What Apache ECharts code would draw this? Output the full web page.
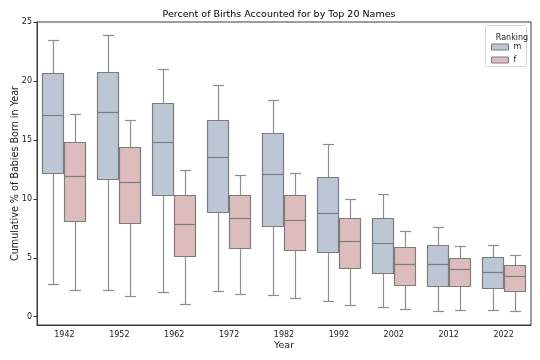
<!DOCTYPE html>
<html>
<head>
<meta charset="utf-8">
<script src="https://cdn.jsdelivr.net/npm/echarts@6/dist/echarts.min.js"></script>
<style>html,body{margin:0;padding:0;background:#fff}#c{width:540px;height:360px}</style>
</head>
<body>
<div id="c"></div>
<script>
// Data: [lower whisker, Q1, median, Q3, upper whisker]
var years = ['1942', '1952', '1962', '1972', '1982', '1992', '2002', '2012', '2022'];
var mStats = [
  [2.75, 12.2, 17.14, 20.66, 23.44],
  [2.25, 11.72, 17.36, 20.8, 23.89],
  [2.08, 10.36, 14.78, 18.16, 21.05],
  [2.19, 8.91, 13.51, 16.68, 19.69],
  [1.82, 7.69, 12.14, 15.6, 18.36],
  [1.31, 5.45, 8.83, 11.89, 14.67],
  [0.8, 3.69, 6.25, 8.4, 10.44],
  [0.51, 2.61, 4.48, 6.1, 7.6],
  [0.57, 2.42, 3.83, 5.05, 6.1]
];
var fStats = [
  [2.27, 8.14, 11.97, 14.81, 17.22],
  [1.74, 7.95, 11.46, 14.36, 16.71],
  [1.11, 5.14, 7.89, 10.3, 12.43],
  [1.9, 5.79, 8.37, 10.3, 12.0],
  [1.56, 5.62, 8.17, 10.3, 12.2],
  [0.97, 4.12, 6.44, 8.37, 9.99],
  [0.63, 2.67, 4.46, 5.91, 7.27],
  [0.57, 2.64, 4.06, 5.02, 5.96],
  [0.46, 2.16, 3.44, 4.37, 5.25]
];
var yTicks = [0, 5, 10, 15, 20, 25];
var seriesNames = ['m', 'f'];
var legendTitle = 'Ranking';
var titleText = 'Percent of Births Accounted for by Top 20 Names';
var xName = 'Year';
var yName = 'Cumulative % of Babies Born in Year';

var fills = ['#bdc6d5', '#dcbcbc'];
var edge = '#7c7c7c';
var whisk = '#8e8e8e';
var FONT = 'DejaVu Sans';

function toData(stats) {
  return stats.map(function (s, i) { return [i].concat(s); });
}

function makeRender(side) {
  return function (params, api) {
    var x = api.value(0);
    var bw = api.size([1, 0])[0];
    var cx = api.coord([x, 0])[0] + side * 0.2 * bw;
    var w = bw * 0.4;
    var cap = w / 2;
    function Y(i) { return Math.round(api.coord([x, api.value(i)])[1]) + 0.5; }
    var yLow = Y(1), yQ1 = Y(2), yMed = Y(3), yQ3 = Y(4), yHigh = Y(5);
    var cxr = Math.round(cx) + 0.5;
    var lw = 1.2;
    var ls = { stroke: whisk, lineWidth: lw, fill: null };
    var bx = Math.round(cx - w / 2) + 0.5, bwid = Math.round(w) - 1;
    return {
      type: 'group',
      children: [
        { type: 'line', shape: { x1: cxr, y1: yQ1, x2: cxr, y2: yLow }, style: ls },
        { type: 'line', shape: { x1: cxr, y1: yQ3, x2: cxr, y2: yHigh }, style: ls },
        { type: 'line', shape: { x1: cxr - cap / 2, y1: yLow, x2: cxr + cap / 2, y2: yLow }, style: ls },
        { type: 'line', shape: { x1: cxr - cap / 2, y1: yHigh, x2: cxr + cap / 2, y2: yHigh }, style: ls },
        { type: 'rect', shape: { x: bx, y: yQ3, width: bwid, height: yQ1 - yQ3 },
          style: { fill: api.visual('color'), stroke: edge, lineWidth: lw } },
        { type: 'line', shape: { x1: bx, y1: yMed, x2: bx + bwid, y2: yMed },
          style: { stroke: edge, lineWidth: lw } }
      ]
    };
  };
}

var chart = echarts.init(document.getElementById('c'), null, { renderer: 'canvas' });
chart.setOption({
  animation: false,
  backgroundColor: '#ffffff',
  title: [{
    text: titleText,
    left: 274, top: 5, textAlign: 'center',
    textStyle: { fontFamily: FONT, fontSize: 9.5, fontWeight: 'normal', color: '#000' }
  }, {
    text: legendTitle,
    left: 507, top: 29, textAlign: 'center',
    textStyle: { fontFamily: FONT, fontSize: 8, fontWeight: 'normal', color: '#222' }
  }],
  graphic: [{
    type: 'rect', z: 5,
    shape: { x: 485.5, y: 25.5, width: 41, height: 41, r: 2 },
    style: { fill: 'rgba(255,255,255,0.8)', stroke: '#d6d6d6', lineWidth: 1 }
  }],
  legend: {
    orient: 'vertical', left: 491, top: 43, z: 6, padding: 0,
    itemWidth: 17, itemHeight: 6, itemGap: 5,
    icon: 'rect',
    textStyle: { fontFamily: FONT, fontSize: 8, color: '#222' },
    data: [
      { name: seriesNames[0], itemStyle: { color: fills[0], borderColor: edge, borderWidth: 1 } },
      { name: seriesNames[1], itemStyle: { color: fills[1], borderColor: edge, borderWidth: 1 } }
    ]
  },
  grid: { left: 37, right: 9, top: 22, bottom: 35, outerBoundsMode: 'none', containLabel: false,
    show: true, borderColor: '#3a3a3a', borderWidth: 1, backgroundColor: 'transparent' },
  xAxis: {
    type: 'category', data: years, boundaryGap: true,
    name: xName, nameLocation: 'middle', nameGap: 16, nameMoveOverlap: false,
    nameTextStyle: { fontFamily: FONT, fontSize: 9.5, color: '#222' },
    axisLine: { onZero: false, lineStyle: { color: '#3a3a3a', width: 1 } },
    axisTick: { alignWithLabel: true, length: 3.5, lineStyle: { color: '#3a3a3a' } },
    axisLabel: { fontFamily: FONT, fontSize: 8, color: '#222', margin: 6 },
    splitLine: { show: false }
  },
  yAxis: {
    type: 'value', min: -0.7, max: 25,
    name: yName, nameLocation: 'middle', nameGap: 17, nameRotate: 90, nameMoveOverlap: false,
    nameTextStyle: { fontFamily: FONT, fontSize: 9.6, color: '#222' },
    axisLine: { show: true, onZero: false, lineStyle: { color: '#3a3a3a', width: 1 } },
    axisTick: { show: true, length: 3.5, customValues: yTicks, lineStyle: { color: '#3a3a3a' } },
    axisLabel: { fontFamily: FONT, fontSize: 8, color: '#222', margin: 5, customValues: yTicks },
    splitLine: { show: false }
  },
  series: [{
    name: seriesNames[0], type: 'custom', renderItem: makeRender(-1),
    itemStyle: { color: fills[0], borderColor: edge },
    encode: { x: 0, y: [1, 2, 3, 4, 5] },
    data: toData(mStats), z: 2
  }, {
    name: seriesNames[1], type: 'custom', renderItem: makeRender(1),
    itemStyle: { color: fills[1], borderColor: edge },
    encode: { x: 0, y: [1, 2, 3, 4, 5] },
    data: toData(fStats), z: 2
  }]
});
</script>
</body>
</html>
